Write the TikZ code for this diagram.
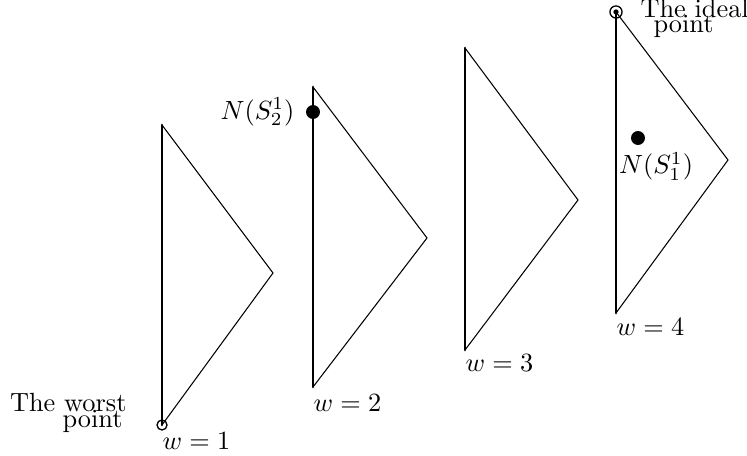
\documentclass[tikz,border=0pt]{standalone}
\usepackage{amsmath,amssymb}
\usepackage{tikz}
\usetikzlibrary{positioning}
\usepackage{xcolor}

\begin{document}
\begin{tikzpicture}[x=0.38pt,y=-0.38pt,line cap=round,
  axisline/.style={line width=1.1pt},
  edgeline/.style={line width=0.4pt},
  bigdot/.style={circle,fill,inner sep=0pt,minimum size=5.3pt}]
\useasboundingbox (0,0) rectangle (747,456);
% w = 1
\coordinate (t1) at (162,125);
\coordinate (a1) at (273,273);
\coordinate (b1) at (162,425);
\draw[axisline] (t1) -- (b1);
\draw[edgeline] (t1) -- (a1) -- (b1);
\draw[line width=0.5pt] (b1) circle (1.9pt);
\node[anchor=base west,inner sep=0pt] (w1) at (162,450) {$w=1$};
\node[anchor=base east,inner sep=0pt] (worst) at (127,412) {The worst};
\node[anchor=base east,inner sep=0pt] (worstb) at (123,428) {point};
% w = 2
\coordinate (t2) at (313,87);
\coordinate (a2) at (427,238);
\coordinate (b2) at (313,387);
\draw[axisline] (t2) -- (b2);
\draw[edgeline] (t2) -- (a2) -- (b2);
\node[bigdot] (d2) at (313,112) {};
\node[left=4pt of d2,inner sep=0pt] (n2) {$N(S^1_2)$};
\node[anchor=base west,inner sep=0pt] (w2) at (313,412) {$w=2$};
% w = 3
\coordinate (t3) at (465,48);
\coordinate (a3) at (578,200);
\coordinate (b3) at (465,350);
\draw[axisline] (t3) -- (b3);
\draw[edgeline] (t3) -- (a3) -- (b3);
\node[anchor=base west,inner sep=0pt] (w3) at (465,372) {$w=3$};
% w = 4
\coordinate (t4) at (616,12);
\coordinate (a4) at (728,160);
\coordinate (b4) at (616,313);
\draw[axisline] (t4) -- (b4);
\draw[edgeline] (t4) -- (a4) -- (b4);
\draw[line width=0.5pt] (t4) circle (2.3pt);
\fill (t4) circle (1pt);
\node[anchor=base west,inner sep=0pt] (ideal) at (640,18) {The ideal};
\node[anchor=base west,inner sep=0pt] (idealb) at (653,33) {point};
\node[bigdot] (d1) at (638,138) {};
\node[anchor=base,inner sep=0pt] (n1) at (656,174) {$N(S^1_1)$};
\node[anchor=base west,inner sep=0pt] (w4) at (616,336) {$w=4$};
\end{tikzpicture}
\end{document}
